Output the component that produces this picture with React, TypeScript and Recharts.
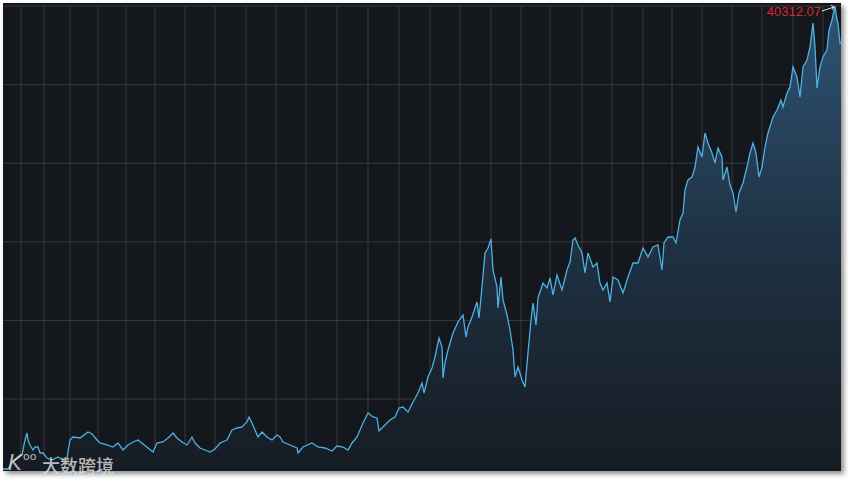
import React from 'react';
import { AreaChart, Area, XAxis, YAxis, CartesianGrid, ReferenceDot } from 'recharts';

// Trading-session number (counted from the first session shown) and the index close
const sessions = [
  0, 40, 72, 120, 152, 176, 192, 200, 216, 240, 256, 280, 296, 320, 352, 392, 440, 480, 512, 536,
  560, 616, 680, 712, 752, 776, 832, 880, 920, 960, 1000, 1040, 1080, 1120, 1160, 1200, 1232, 1280, 1320, 1360,
  1392, 1432, 1472, 1512, 1536, 1576, 1616, 1656, 1696, 1736, 1792, 1832, 1872, 1912, 1952, 1968, 1992, 2016, 2040, 2072,
  2112, 2152, 2192, 2216, 2240, 2296, 2352, 2360, 2400, 2472, 2520, 2576, 2632, 2672, 2720, 2760, 2792, 2832, 2880, 2920,
  2960, 2992, 3008, 3040, 3096, 3136, 3168, 3200, 3240, 3280, 3320, 3352, 3368, 3400, 3432, 3456, 3488, 3512, 3520, 3536,
  3560, 3600, 3640, 3680, 3704, 3720, 3752, 3792, 3808, 3832, 3856, 3880, 3904, 3920, 3952, 3960, 3984, 4000, 4032, 4056,
  4080, 4096, 4120, 4152, 4176, 4200, 4224, 4240, 4264, 4280, 4320, 4352, 4376, 4400, 4432, 4472, 4512, 4536, 4560, 4576,
  4600, 4632, 4656, 4680, 4720, 4752, 4776, 4800, 4832, 4856, 4880, 4920, 4960, 5000, 5040, 5080, 5120, 5160, 5200, 5240,
  5272, 5288, 5320, 5360, 5384, 5416, 5440, 5456, 5480, 5512, 5536, 5560, 5592, 5616, 5640, 5672, 5696, 5720, 5752, 5760,
  5792, 5816, 5840, 5864, 5888, 5920, 5952, 5976, 6000, 6024, 6048, 6072, 6096, 6120, 6160, 6192, 6224, 6240, 6272, 6296,
  6320, 6352, 6376, 6400, 6432, 6456, 6480, 6496, 6512, 6536, 6560, 6592, 6608, 6632, 6656, 6672, 6680, 6696, 6704,
];

const closes = [
  1829, 1829, 2410, 2743, 2992, 4239, 4821, 4239, 3824, 3408, 3657, 3657, 3159, 3159, 2743, 2577, 2826, 2577, 2743, 4239,
  4488, 4405, 4904, 4738, 4239, 3990, 3824, 3657, 3990, 3408, 3824, 4073, 4239, 3907, 3574, 3242, 3990, 4073, 4405, 4821,
  4405, 4073, 3824, 4488, 3990, 3574, 3408, 3242, 3491, 3990, 4239, 5070, 5237, 5320, 5735, 6151, 5652, 5070, 4488, 4904,
  4488, 4239, 4655, 4488, 4073, 3824, 3574, 3159, 3657, 3990, 3657, 3574, 3325, 3740, 3657, 3408, 3990, 4488, 5652, 6483,
  6151, 6068, 4987, 5320, 5902, 6151, 6899, 6982, 6566, 7398, 8146, 8977, 8146, 9476, 10224, 11138, 12717, 11969, 9393, 10639,
  11720, 13133, 14047, 14629, 12800, 13632, 14463, 15710, 14380, 16956, 19783, 20198, 20946, 18370, 16956, 15211, 17788, 15876, 14629, 13382,
  11720, 9476, 10307, 9226, 8644, 11471, 14214, 15627, 13798, 16042, 17289, 16873, 17705, 16292, 17954, 16707, 18370, 19034, 20863, 21029,
  20448, 19783, 18120, 19783, 18619, 18951, 17289, 16707, 17289, 15710, 17788, 17538, 16458, 17788, 18951, 18951, 20198, 19450, 20281, 20448,
  18370, 20614, 21112, 21112, 20614, 22526, 23107, 25019, 25850, 26100, 26931, 28593, 27762, 29757, 28926, 28095, 27263, 28510, 27762, 25850,
  26931, 25435, 24770, 23190, 24770, 25601, 26931, 28095, 28926, 28095, 26100, 26931, 28593, 29757, 31087, 31669, 32500, 31918, 33082, 33580,
  35243, 34412, 32749, 35243, 35825, 36905, 38900, 36905, 33497, 35243, 36074, 36656, 38318, 39150, 40312.07, 39150, 38900, 37238, 37321,
];

// First session of each calendar year (vertical grid lines)
const years = [
  1992, 1993, 1994, 1995, 1996, 1997, 1998, 1999, 2000, 2001, 2002, 2003, 2004, 2005,
  2006, 2007, 2008, 2009, 2010, 2011, 2012, 2013, 2014, 2015, 2016, 2017, 2018, 2019,
];
const yearStarts = [
  144, 328, 536, 760, 984, 1216, 1456, 1696, 1944, 2184, 2424, 2672, 2920, 3168,
  3416, 3656, 3904, 4144, 4376, 4632, 4872, 5120, 5352, 5592, 5832, 6072, 6320, 6560,
];

// Horizontal grid levels and value-axis range
const gridLevels = [7647, 14180, 20713, 27246, 33779, 40312.07];
const axisMin = 1662;
const axisMax = 40312.07;
const lastSession = 6704;

const data = sessions.map((s, i) => ({ s, close: closes[i] }));
const peakValue = Math.max(...closes);
const peakSession = sessions[closes.indexOf(peakValue)];

function PeakMarker(props: any) {
  const { cx, cy } = props;
  if (cx == null || cy == null) return null;
  const tx = cx - 14;
  return (
    <g>
      <line x1={tx + 1} y1={cy + 5} x2={cx - 1} y2={cy + 1} stroke="#e8e8e8" strokeWidth={1} />
      <polyline
        points={`${cx - 4},${cy - 1} ${cx - 1},${cy + 1} ${cx - 3},${cy + 4}`}
        fill="none"
        stroke="#e8e8e8"
        strokeWidth={1}
      />
      <text
        x={tx}
        y={cy + 10}
        textAnchor="end"
        fontSize={13}
        fontFamily="'Liberation Sans', Arial, sans-serif"
        fill="#d42a30"
      >
        {peakValue.toFixed(2)}
      </text>
    </g>
  );
}

export default function App() {
  return (
    <div
      style={{
        position: 'absolute',
        left: 0,
        top: 0,
        width: 854,
        height: 482,
        background: '#ffffff',
        overflow: 'hidden',
      }}
    >
      <div
        style={{
          position: 'absolute',
          left: 3,
          top: 3,
          width: 838,
          height: 468,
          background: '#14171c',
          boxShadow: '3px 3px 5px rgba(0,0,0,0.45)',
        }}
      >
        <AreaChart
          width={838}
          height={468}
          data={data}
          margin={{ top: 3, right: 0, bottom: 0, left: 0 }}
        >
          <defs>
            <linearGradient id="areaFill" x1="0" y1="0" x2="0" y2="1">
              <stop offset="0%" stopColor="#2f5475" stopOpacity={1} />
              <stop offset="50%" stopColor="#1f3244" stopOpacity={1} />
              <stop offset="100%" stopColor="#161c23" stopOpacity={1} />
            </linearGradient>
          </defs>
          <CartesianGrid
            stroke="#383b40"
            strokeWidth={1}
            horizontalValues={gridLevels}
            verticalValues={yearStarts}
          />
          <XAxis
            dataKey="s"
            type="number"
            domain={[0, lastSession]}
            ticks={yearStarts}
            interval={0}
            hide
          />
          <YAxis
            type="number"
            domain={[axisMin, axisMax]}
            ticks={gridLevels}
            interval={0}
            hide
          />
          <Area
            type="linear"
            dataKey="close"
            stroke="#4fb0e2"
            strokeWidth={1.3}
            fill="url(#areaFill)"
            fillOpacity={1}
            isAnimationActive={false}
            dot={false}
            activeDot={false}
          />
          <ReferenceDot
            x={peakSession}
            y={peakValue}
            r={1}
            ifOverflow="visible"
            shape={PeakMarker}
          />
        </AreaChart>
      </div>
      <div
        style={{
          position: 'absolute',
          left: 8,
          top: 453,
          fontFamily: "'DejaVu Sans', sans-serif",
          fontSize: 21,
          lineHeight: 1,
          color: 'rgba(225,225,225,0.8)',
          fontStyle: 'italic',
          pointerEvents: 'none',
        }}
      >
        K
      </div>
      <div
        style={{
          position: 'absolute',
          left: 23,
          top: 451,
          fontFamily: "'DejaVu Sans', sans-serif",
          fontSize: 11,
          lineHeight: 1,
          color: 'rgba(225,225,225,0.8)',
          pointerEvents: 'none',
        }}
      >
        oo
      </div>
      <div
        style={{
          position: 'absolute',
          left: 42,
          top: 456,
          fontFamily: "'Noto Sans CJK SC', sans-serif",
          fontSize: 18,
          lineHeight: 1,
          fontWeight: 500,
          color: 'rgba(220,220,220,0.82)',
          pointerEvents: 'none',
        }}
      >
        大数跨境
      </div>
    </div>
  );
}
